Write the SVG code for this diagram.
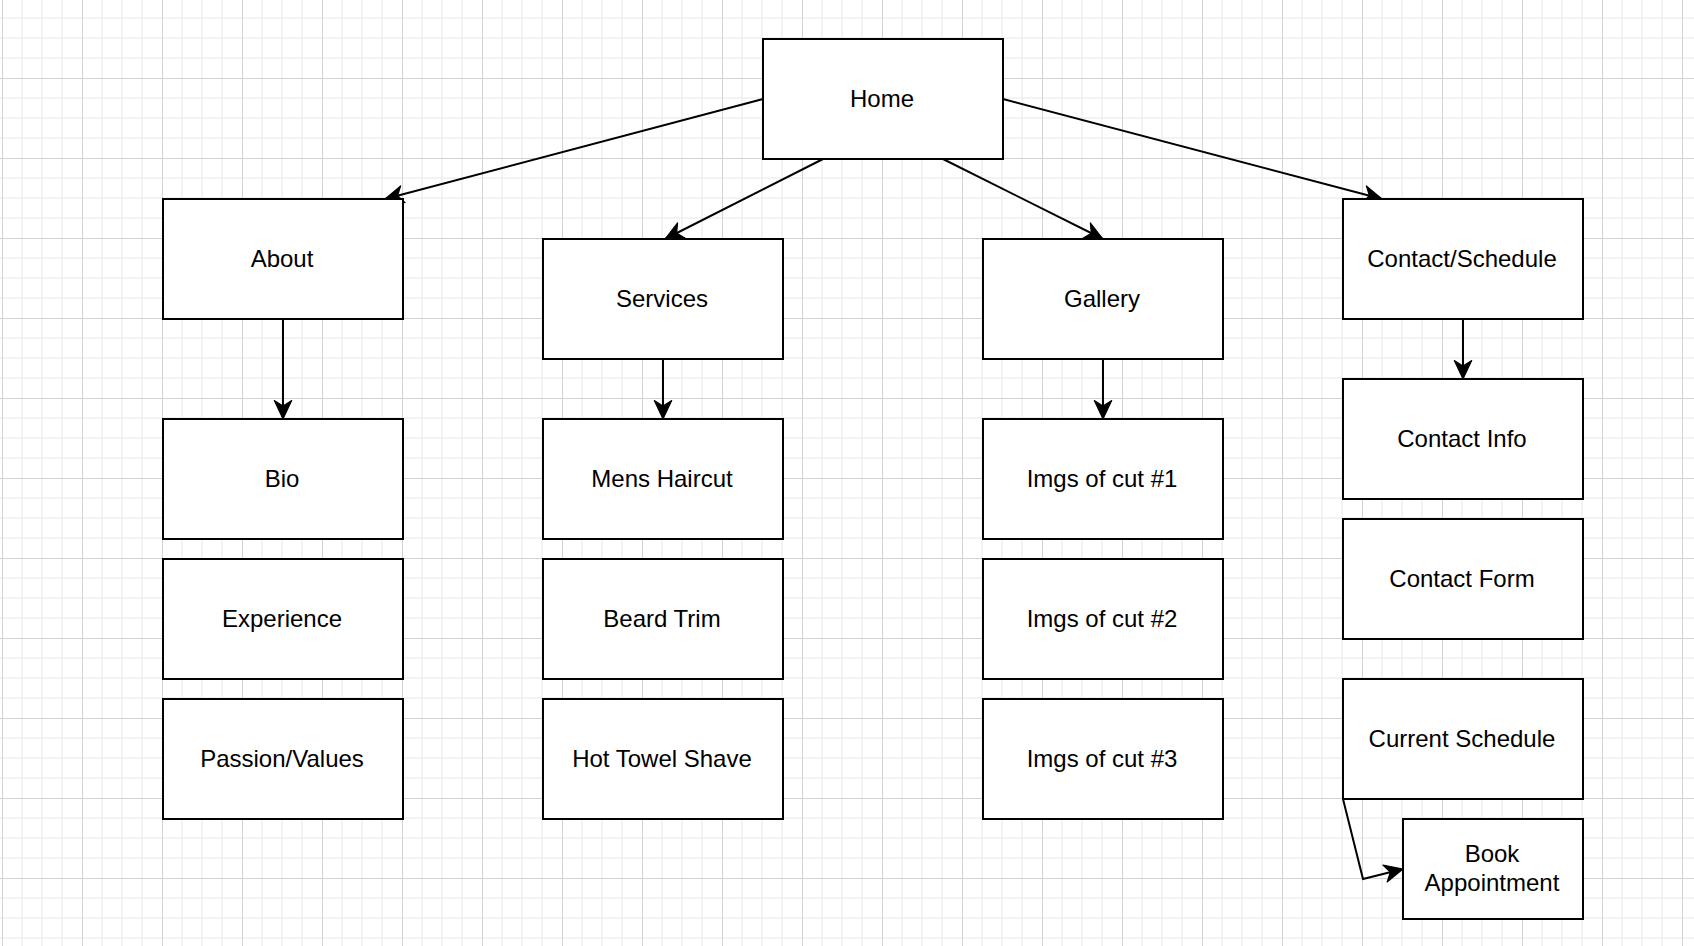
<svg xmlns="http://www.w3.org/2000/svg" width="1694" height="946" viewBox="0 0 1694 946">
  <style>
    .node rect { fill: #ffffff; stroke: #000000; stroke-width: 2; }
    .node text { font-family: "Liberation Sans", Arial, Helvetica, sans-serif; font-size: 24px; fill: #000000; text-anchor: middle; }
    .edge { fill: none; stroke: #000000; stroke-width: 2; marker-end: url(#arrow); }
  </style>
  <defs>
    <pattern id="grid" patternUnits="userSpaceOnUse" x="2" y="-2" width="80" height="80">
      <path d="M20,0 V80 M40,0 V80 M60,0 V80 M0,20 H80 M0,40 H80 M0,60 H80" stroke="#efefef" stroke-width="1.5" fill="none"/>
      <path d="M0.5,0 V80 M0,0.5 H80" stroke="#d3d3d3" stroke-width="1" fill="none"/>
    </pattern>
    <marker id="arrow" markerUnits="userSpaceOnUse" markerWidth="24" markerHeight="24" viewBox="-20 -10 22 20" refX="0" refY="0" orient="auto">
      <path d="M0,0 L-17,-8 L-12,0 L-17,8 Z" fill="#000000" stroke="#000000" stroke-width="1" stroke-linejoin="round"/>
    </marker>
  </defs>
  <rect x="0" y="0" width="1694" height="946" fill="#ffffff"/>
  <rect x="0" y="0" width="1694" height="946" fill="url(#grid)"/>

  <g transform="translate(1,1)">
  <g id="connectors">
    <line class="edge" x1="762" y1="98" x2="384" y2="198"/>
    <line class="edge" x1="822" y1="158" x2="664" y2="238"/>
    <line class="edge" x1="942" y1="158" x2="1102" y2="238"/>
    <line class="edge" x1="1002" y1="98" x2="1381" y2="198"/>
    <line class="edge" x1="282" y1="318" x2="282" y2="418"/>
    <line class="edge" x1="662" y1="358" x2="662" y2="418"/>
    <line class="edge" x1="1102" y1="358" x2="1102" y2="418"/>
    <line class="edge" x1="1462" y1="318" x2="1462" y2="378"/>
    <polyline class="edge" points="1342,798 1362,878 1402,868"/>
  </g>

  <g id="home" class="node"><rect x="762" y="38" width="240" height="120"/><text x="881" y="105.6">Home</text></g>

  <g id="about" class="node"><rect x="162" y="198" width="240" height="120"/><text x="281" y="265.6">About</text></g>
  <g id="bio" class="node"><rect x="162" y="418" width="240" height="120"/><text x="281" y="485.6">Bio</text></g>
  <g id="experience" class="node"><rect x="162" y="558" width="240" height="120"/><text x="281" y="625.6">Experience</text></g>
  <g id="passion" class="node"><rect x="162" y="698" width="240" height="120"/><text x="281" y="765.6">Passion/Values</text></g>

  <g id="services" class="node"><rect x="542" y="238" width="240" height="120"/><text x="661" y="305.6">Services</text></g>
  <g id="mens-haircut" class="node"><rect x="542" y="418" width="240" height="120"/><text x="661" y="485.6">Mens Haircut</text></g>
  <g id="beard-trim" class="node"><rect x="542" y="558" width="240" height="120"/><text x="661" y="625.6">Beard Trim</text></g>
  <g id="hot-towel" class="node"><rect x="542" y="698" width="240" height="120"/><text x="661" y="765.6">Hot Towel Shave</text></g>

  <g id="gallery" class="node"><rect x="982" y="238" width="240" height="120"/><text x="1101" y="305.6">Gallery</text></g>
  <g id="imgs1" class="node"><rect x="982" y="418" width="240" height="120"/><text x="1101" y="485.6">Imgs of cut #1</text></g>
  <g id="imgs2" class="node"><rect x="982" y="558" width="240" height="120"/><text x="1101" y="625.6">Imgs of cut #2</text></g>
  <g id="imgs3" class="node"><rect x="982" y="698" width="240" height="120"/><text x="1101" y="765.6">Imgs of cut #3</text></g>

  <g id="contact-schedule" class="node"><rect x="1342" y="198" width="240" height="120"/><text x="1461" y="265.6">Contact/Schedule</text></g>
  <g id="contact-info" class="node"><rect x="1342" y="378" width="240" height="120"/><text x="1461" y="445.6">Contact Info</text></g>
  <g id="contact-form" class="node"><rect x="1342" y="518" width="240" height="120"/><text x="1461" y="585.6">Contact Form</text></g>
  <g id="current-schedule" class="node"><rect x="1342" y="678" width="240" height="120"/><text x="1461" y="745.6">Current Schedule</text></g>
  <g id="book-appointment" class="node"><rect x="1402" y="818" width="180" height="100"/><text x="1491" y="861.2">Book</text><text x="1491" y="890">Appointment</text></g>
  </g>
</svg>
